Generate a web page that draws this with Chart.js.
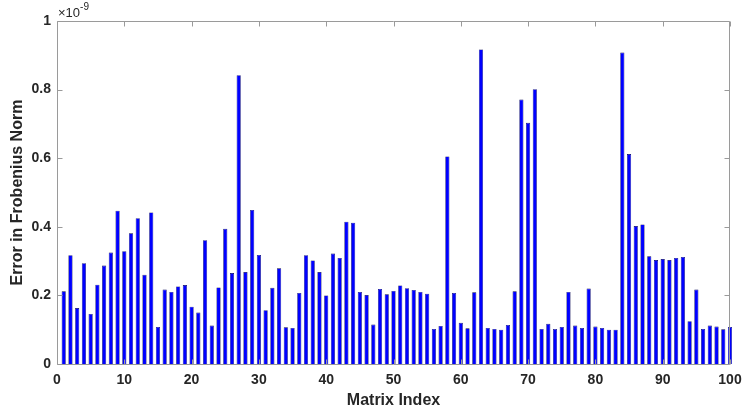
<!DOCTYPE html>
<html>
<head>
<meta charset="utf-8">
<script src="https://cdn.jsdelivr.net/npm/chart.js@4"></script>
<style>
  html, body { margin: 0; padding: 0; background: #ffffff; }
  #wrap { width: 742px; height: 416px; }
</style>
</head>
<body>
<div id="wrap"><canvas id="c" width="742" height="416"></canvas></div>
<script>
// ---- data (values in units of 1e-9) ----
const matrixIndex = [
  1,2,3,4,5,6,7,8,9,10,11,12,13,14,15,16,17,18,19,20,
  21,22,23,24,25,26,27,28,29,30,31,32,33,34,35,36,37,38,39,40,
  41,42,43,44,45,46,47,48,49,50,51,52,53,54,55,56,57,58,59,60,
  61,62,63,64,65,66,67,68,69,70,71,72,73,74,75,76,77,78,79,80,
  81,82,83,84,85,86,87,88,89,90,91,92,93,94,95,96,97,98,99,100
];
const errorValues = [
  0.212,0.317,0.163,0.294,0.146,0.231,0.287,0.325,0.447,0.329,
  0.381,0.425,0.260,0.442,0.108,0.217,0.210,0.226,0.230,0.167,
  0.150,0.361,0.112,0.223,0.394,0.265,0.842,0.268,0.449,0.318,
  0.157,0.222,0.279,0.107,0.105,0.207,0.317,0.302,0.268,0.200,
  0.322,0.309,0.415,0.412,0.210,0.201,0.115,0.219,0.203,0.213,
  0.229,0.221,0.216,0.210,0.205,0.102,0.111,0.605,0.207,0.120,
  0.104,0.209,0.917,0.105,0.102,0.100,0.114,0.212,0.771,0.703,
  0.801,0.102,0.117,0.102,0.108,0.210,0.112,0.105,0.220,0.109,
  0.105,0.100,0.100,0.908,0.612,0.402,0.407,0.314,0.303,0.306,
  0.303,0.309,0.312,0.125,0.217,0.102,0.112,0.109,0.101,0.108
];
const xTickValues = [0,10,20,30,40,50,60,70,80,90,100];
const yTickValues = [0,0.2,0.4,0.6,0.8,1];
const yTickLabels = ['0','0.2','0.4','0.6','0.8','1'];
const xTitle = 'Matrix Index';
const yTitle = 'Error in Frobenius Norm';
const exponentBase = '\u00D710';
const exponentPower = '-9';

// ---- styling ----
const FONT = '"Liberation Sans", Arial, Helvetica, sans-serif';
const TEXT = '#262626';
const FRAME = '#9a9a9a';

const framePlugin = {
  id: 'frame',
  afterDatasetsDraw(chart) {
    const { ctx, chartArea: a, scales: { x, y } } = chart;
    ctx.save();
    ctx.strokeStyle = FRAME;
    ctx.lineWidth = 1;
    const L = Math.round(a.left) + 0.5, R = Math.round(a.right) - 0.5;
    const T = Math.round(a.top) + 0.5, B = Math.round(a.bottom) + 0.5;
    ctx.beginPath();
    ctx.rect(L, T, R - L, B - T);
    const tl = 5;
    xTickValues.forEach(v => {
      const px = Math.round(x.getPixelForValue(v)) + 0.5;
      ctx.moveTo(px, B); ctx.lineTo(px, B - tl);
      ctx.moveTo(px, T); ctx.lineTo(px, T + tl);
    });
    yTickValues.forEach(v => {
      const py = Math.round(y.getPixelForValue(v)) + 0.5;
      ctx.moveTo(L, py); ctx.lineTo(L + tl, py);
      ctx.moveTo(R, py); ctx.lineTo(R - tl, py);
    });
    ctx.stroke();
    // exponent label
    ctx.fillStyle = TEXT;
    ctx.textBaseline = 'alphabetic';
    ctx.textAlign = 'left';
    ctx.font = '13px ' + FONT;
    ctx.fillText(exponentBase, a.left + 1, a.top - 4);
    const w = ctx.measureText(exponentBase).width;
    ctx.font = '10px ' + FONT;
    ctx.fillText(exponentPower, a.left + 1 + w, a.top - 11);
    ctx.restore();
  }
};

new Chart(document.getElementById('c'), {
  type: 'bar',
  data: {
    datasets: [{
      data: matrixIndex.map((m, i) => ({ x: m, y: errorValues[i] })),
      backgroundColor: '#0000ff',
      borderColor: '#000050',
      borderWidth: 0.6,
      barPercentage: 0.62,
      categoryPercentage: 1,
      clip: false
    }]
  },
  options: {
    responsive: false,
    animation: false,
    events: [],
    layout: { padding: { top: 21, right: 12, left: 0, bottom: 0 } },
    plugins: { legend: { display: false }, tooltip: { enabled: false } },
    scales: {
      x: {
        type: 'linear',
        min: 0, max: 100,
        offset: false,
        afterBuildTicks(s) { s.ticks = xTickValues.map(v => ({ value: v })); },
        ticks: { color: TEXT, font: { family: FONT, size: 14, weight: 'bold' }, padding: 8, maxRotation: 0, autoSkip: false },
        grid: { display: false, drawTicks: false },
        border: { display: false },
        title: { display: true, text: xTitle, color: TEXT, font: { family: FONT, size: 16, weight: 'bold' }, padding: { top: 0, bottom: 6 } },
        afterFit(s) { s.height = 52; s.paddingLeft = 0; s.paddingRight = 0; }
      },
      y: {
        min: 0, max: 1,
        afterBuildTicks(s) { s.ticks = yTickValues.map(v => ({ value: v })); },
        ticks: {
          color: TEXT, font: { family: FONT, size: 14, weight: 'bold' }, padding: 6,
          callback: (v) => { const i = yTickValues.indexOf(v); return i >= 0 ? yTickLabels[i] : String(v); }
        },
        grid: { display: false, drawTicks: false },
        border: { display: false },
        title: { display: true, text: yTitle, color: TEXT, font: { family: FONT, size: 16, weight: 'bold' }, padding: { top: 8, bottom: 0 } },
        afterFit(s) { s.width = 57; s.paddingTop = 0; s.paddingBottom = 0; }
      }
    }
  },
  plugins: [framePlugin]
});
</script>
</body>
</html>
